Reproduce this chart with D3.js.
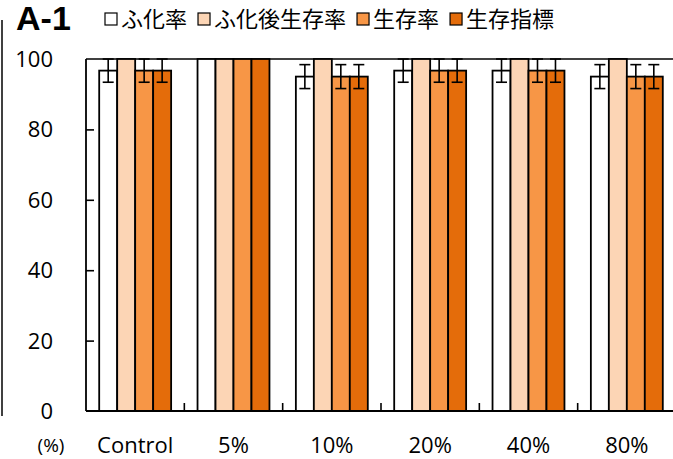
<!DOCTYPE html>
<html>
<head>
<meta charset="utf-8">
<script src="https://cdn.jsdelivr.net/npm/d3@7"></script>
<style>
  body { margin: 0; background: #fff; }
  svg text { font-family: "Open Sans", "Noto Sans CJK JP", sans-serif; fill: #000; }
</style>
</head>
<body>
<div id="chart"></div>
<script>
// Data
const categories = ["Control", "5%", "10%", "20%", "40%", "80%"];
const seriesNames = ["ふ化率", "ふ化後生存率", "生存率", "生存指標"];
const seriesColors = ["#ffffff", "#fcd5b5", "#f79646", "#e46c0a"];
const hatchRate = [96.7, 100, 95, 96.7, 96.7, 95];
const hatchErr = [3.3, 0, 3.4, 3.3, 3.3, 3.4];
const postHatchSurv = [100, 100, 100, 100, 100, 100];
const postHatchErr = [0, 0, 0, 0, 0, 0];
const survRate = [96.7, 100, 95, 96.7, 96.7, 95];
const survErr = [3.3, 0, 3.4, 3.3, 3.3, 3.4];
const survIndex = [96.7, 100, 95, 96.7, 96.7, 95];
const survIndexErr = [3.3, 0, 3.4, 3.3, 3.3, 3.4];
const yTicks = [0, 20, 40, 60, 80, 100];

const values = [hatchRate, postHatchSurv, survRate, survIndex];
const errors = [hatchErr, postHatchErr, survErr, survIndexErr];

const W = 673, H = 459;
const plotL = 86, plotR = 676, plotT = 59, plotB = 411;

const svg = d3.select("#chart").append("svg")
  .attr("width", W)
  .attr("height", H);

// scales
const x0 = d3.scaleBand().domain(categories).range([plotL, plotR]).padding(0);
const gPad = 13.2;
const x1 = d3.scaleBand().domain(d3.range(4)).range([gPad, x0.bandwidth() - gPad]).padding(0);
const y = d3.scaleLinear().domain([0, 100]).range([plotB, plotT]);

// outer left frame line
svg.append("line")
  .attr("x1", 2).attr("x2", 2).attr("y1", 20).attr("y2", 416)
  .attr("stroke", "#000").attr("stroke-width", 1.5);

// top line at 100
svg.append("line")
  .attr("x1", plotL).attr("x2", W).attr("y1", y(100)).attr("y2", y(100))
  .attr("stroke", "#000").attr("stroke-width", 1.6);

// bars
const groups = svg.selectAll(".grp")
  .data(categories)
  .join("g")
  .attr("class", "grp")
  .attr("transform", d => `translate(${x0(d)},0)`);

groups.each(function(cat, ci) {
  const g = d3.select(this);
  for (let s = 0; s < 4; s++) {
    const v = values[s][ci];
    g.append("rect")
      .attr("x", x1(s))
      .attr("width", x1.bandwidth())
      .attr("y", y(v))
      .attr("height", y(0) - y(v))
      .attr("fill", seriesColors[s])
      .attr("stroke", "#000")
      .attr("stroke-width", 1.8);
  }
  for (let s = 0; s < 4; s++) {
    const v = values[s][ci], e = errors[s][ci];
    if (!e) continue;
    const cx = x1(s) + x1.bandwidth() / 2;
    const cap = 5.5;
    g.append("line")
      .attr("x1", cx).attr("x2", cx)
      .attr("y1", y(v + e)).attr("y2", y(v - e))
      .attr("stroke", "#000").attr("stroke-width", 1.6);
    [v + e, v - e].forEach(t => {
      g.append("line")
        .attr("x1", cx - cap).attr("x2", cx + cap)
        .attr("y1", y(t)).attr("y2", y(t))
        .attr("stroke", "#000").attr("stroke-width", 1.6);
    });
  }
});

// y axis (ticks inside)
const yAxis = svg.append("g")
  .attr("transform", `translate(${plotL},0)`)
  .call(d3.axisRight(y).tickValues(yTicks.filter(t => t > 0 && t < 100)).tickSize(8).tickFormat(""));
yAxis.select(".domain").remove();
yAxis.selectAll(".tick line").attr("stroke", "#000").attr("stroke-width", 1.6);
svg.append("line")
  .attr("x1", plotL).attr("x2", plotL).attr("y1", plotT).attr("y2", plotB)
  .attr("stroke", "#000").attr("stroke-width", 1.8);

svg.selectAll(".ylab")
  .data(yTicks)
  .join("text")
  .attr("class", "ylab")
  .attr("x", 53)
  .attr("y", d => y(d))
  .attr("dy", "0.36em")
  .attr("text-anchor", "end")
  .attr("font-size", 22)
  .text(d => d);

svg.append("text")
  .attr("x", 51).attr("y", 452)
  .attr("text-anchor", "middle")
  .attr("font-size", 19)
  .text("(%)");

// x axis line + inward category ticks
svg.append("line")
  .attr("x1", plotL).attr("x2", W).attr("y1", plotB).attr("y2", plotB)
  .attr("stroke", "#000").attr("stroke-width", 1.8);
svg.selectAll(".xtick")
  .data(categories.slice(1))
  .join("line")
  .attr("class", "xtick")
  .attr("x1", d => x0(d)).attr("x2", d => x0(d))
  .attr("y1", plotB).attr("y2", plotB - 8)
  .attr("stroke", "#000").attr("stroke-width", 1.6);

svg.selectAll(".xlab")
  .data(categories)
  .join("text")
  .attr("class", "xlab")
  .attr("x", d => x0(d) + x0.bandwidth() / 2)
  .attr("y", 453)
  .attr("font-size", 22)
  .text(d => d)
  .attr("text-anchor", "middle");

// panel label
svg.append("text")
  .attr("x", 16).attr("y", 30)
  .attr("font-size", 34)
  .attr("font-weight", "bold")
  .style("font-family", "'Liberation Sans', Arial, sans-serif")
  .text("A-1");

// legend
const legend = svg.append("g").attr("transform", "translate(105,19)");
let lx = 0;
seriesNames.forEach((name, i) => {
  const item = legend.append("g").attr("transform", `translate(${lx},0)`);
  item.append("rect")
    .attr("x", 0).attr("y", -6)
    .attr("width", 12).attr("height", 12)
    .attr("fill", seriesColors[i])
    .attr("stroke", "#000")
    .attr("stroke-width", 1.2);
  const t = item.append("text")
    .attr("x", 16).attr("y", 0)
    .attr("dy", "0.36em")
    .attr("font-size", 22)
    .style("font-family", "'Noto Sans CJK JP', sans-serif")
    .text(name);
  lx += 16 + t.node().getComputedTextLength() + 11;
});
</script>
</body>
</html>
